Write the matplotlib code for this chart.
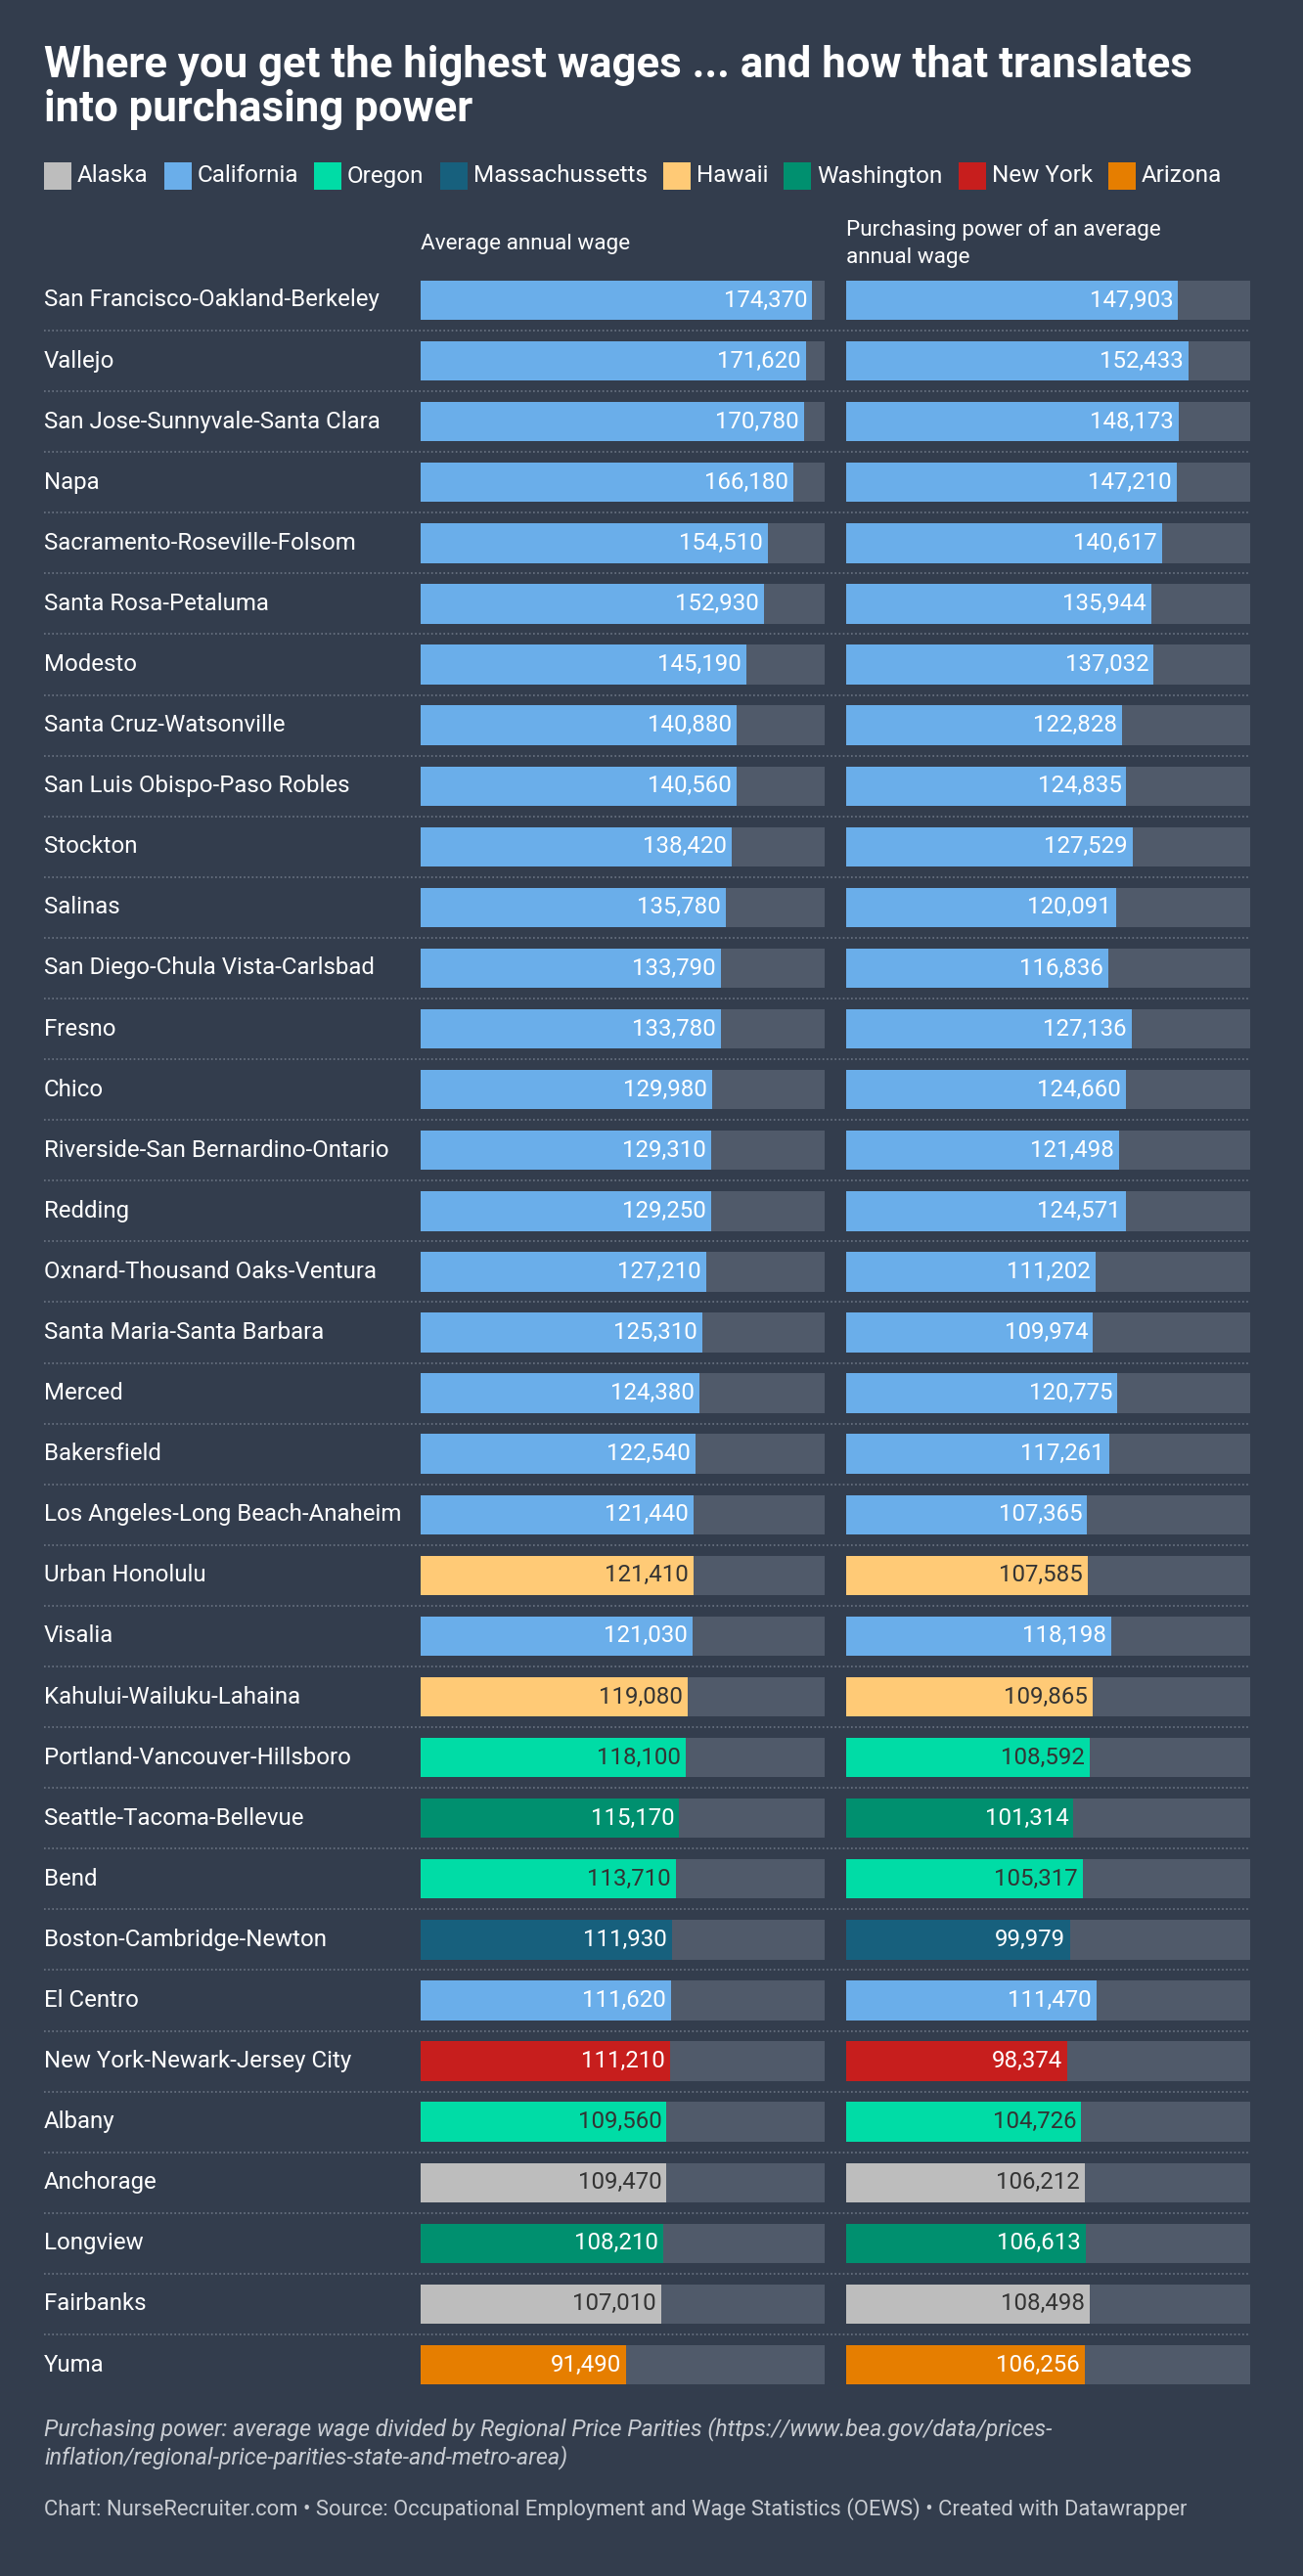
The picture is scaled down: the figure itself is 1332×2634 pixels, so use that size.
import matplotlib
matplotlib.use("Agg")
import matplotlib.pyplot as plt
from matplotlib.patches import Rectangle

cities = ["San Francisco-Oakland-Berkeley","Vallejo","San Jose-Sunnyvale-Santa Clara","Napa",
"Sacramento-Roseville-Folsom","Santa Rosa-Petaluma","Modesto","Santa Cruz-Watsonville",
"San Luis Obispo-Paso Robles","Stockton","Salinas","San Diego-Chula Vista-Carlsbad","Fresno",
"Chico","Riverside-San Bernardino-Ontario","Redding","Oxnard-Thousand Oaks-Ventura",
"Santa Maria-Santa Barbara","Merced","Bakersfield","Los Angeles-Long Beach-Anaheim",
"Urban Honolulu","Visalia","Kahului-Wailuku-Lahaina","Portland-Vancouver-Hillsboro",
"Seattle-Tacoma-Bellevue","Bend","Boston-Cambridge-Newton","El Centro","New York-Newark-Jersey City",
"Albany","Anchorage","Longview","Fairbanks","Yuma"]
states = ["California"]*21 + ["Hawaii","California","Hawaii","Oregon","Washington","Oregon",
"Massachussetts","California","New York","Oregon","Alaska","Washington","Alaska","Arizona"]
wage = [174370,171620,170780,166180,154510,152930,145190,140880,140560,138420,135780,133790,133780,
129980,129310,129250,127210,125310,124380,122540,121440,121410,121030,119080,118100,115170,113710,
111930,111620,111210,109560,109470,108210,107010,91490]
power = [147903,152433,148173,147210,140617,135944,137032,122828,124835,127529,120091,116836,127136,
124660,121498,124571,111202,109974,120775,117261,107365,107585,118198,109865,108592,101314,105317,
99979,111470,98374,104726,106212,106613,108498,106256]
legend_states = ["Alaska","California","Oregon","Massachussetts","Hawaii","Washington","New York","Arizona"]
colors = {"Alaska":"#bdbdbd","California":"#6aaeea","Oregon":"#00dca6","Massachussetts":"#17607d",
"Hawaii":"#ffca76","Washington":"#00906f","New York":"#c71e1d","Arizona":"#e67e00"}
dark_text = {"Alaska","Oregon","Hawaii"}
XMAX = 180000

BG = "#333d4d"; TRACK = "#505a6a"
W, H = 1332, 2634
plt.rcParams['font.family'] = ['Roboto', 'DejaVu Sans']
fig = plt.figure(figsize=(W/100, H/100), dpi=100, facecolor=BG)

n = len(cities)
row0, rowN = 307, 2418
step = (rowN-row0)/(n-1)
top = row0 - step/2; bot = rowN + step/2
fb, ft = 1-bot/H, 1-top/H

ax0 = fig.add_axes([0, fb, 1, ft-fb]); ax0.set_xlim(0, W); ax0.set_ylim(n-0.5, -0.5); ax0.axis('off')
for i, c in enumerate(cities):
    ax0.text(45, i, c, color="white", fontsize=17.3, va="center", ha="left")
    if i < n-1:
        ax0.plot([45, 1278], [i+0.5, i+0.5], color="#6b7483", lw=1.2, ls=(0, (1, 1.5)))

def column(x0, x1, vals):
    ax = fig.add_axes([x0/W, fb, (x1-x0)/W, ft-fb])
    ax.set_xlim(0, XMAX); ax.set_ylim(n-0.5, -0.5); ax.axis('off')
    ax.barh(range(n), [XMAX]*n, height=0.65, color=TRACK, lw=0)
    ax.barh(range(n), vals, height=0.65, color=[colors[s] for s in states], lw=0)
    for i, (v, s) in enumerate(zip(vals, states)):
        ax.text(v - 2200, i, f"{v:,}", ha="right", va="center", fontsize=17.3,
                color="#333333" if s in dark_text else "white")
    return ax
column(430, 843, wage)
column(865, 1278, power)

fig.text(430/W, 1-249/H, "Average annual wage", color="white", fontsize=16.2, va="center", ha="left")
fig.text(865/W, 1-235/H, "Purchasing power of an average", color="white", fontsize=16.2, va="center", ha="left")
fig.text(865/W, 1-264/H, "annual wage", color="white", fontsize=16.2, va="center", ha="left")

fig.text(45/W, 1-46/H, "Where you get the highest wages ... and how that translates\ninto purchasing power",
         color="white", fontsize=31.5, fontweight="bold", va="top", ha="left", linespacing=1.1)

# legend
x = 45
for s in legend_states:
    fig.patches.append(Rectangle((x/W, 1-194/H), 28/W, 28/H, transform=fig.transFigure,
                                 color=colors[s], lw=0))
    t = fig.text((x+34)/W, 1-180/H, s, color="white", fontsize=17.5, va="center", ha="left")
    fig.canvas.draw()
    bb = t.get_window_extent()
    x = bb.x1 + 16

fig.text(45/W, 1-2445/H-0.01, "Purchasing power: average wage divided by Regional Price Parities (https://www.bea.gov/data/prices-\ninflation/regional-price-parities-state-and-metro-area)",
         color="#c8ccd2", fontsize=16.8, style="italic", va="top", ha="left", linespacing=1.2)
fig.text(45/W, 1-2566/H, "Chart: NurseRecruiter.com • Source: Occupational Employment and Wage Statistics (OEWS) • Created with Datawrapper",
         color="#c8ccd2", fontsize=15.8, va="center", ha="left")

fig.savefig("out.png", dpi=100, facecolor=BG)
